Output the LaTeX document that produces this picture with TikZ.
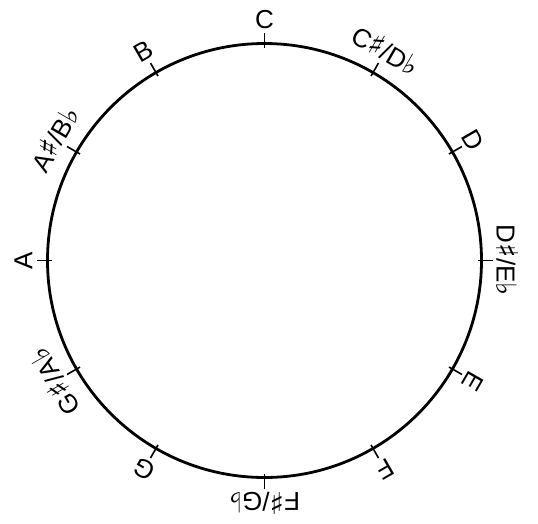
\documentclass[tikz,border=0pt]{standalone}
\usepackage{fontspec}
\usetikzlibrary{calc}
\setmainfont{Liberation Sans}
\newfontfamily\symfont{DejaVu Sans}
\newcommand{\shp}{{\symfont\fontsize{30}{30}\selectfont ♯}}
\newcommand{\flt}{{\symfont\fontsize{28}{28}\selectfont ♭}}
\begin{document}
\begin{tikzpicture}[x=1pt,y=1pt,
  ring/.style={line width=2.8pt},
  tickmark/.style={line width=1.6pt},
  notelabel/.style={anchor=south,inner sep=0pt,text depth=0pt,font=\fontsize{26}{26}\selectfont}]
\useasboundingbox (0,0) rectangle (538,-523);
\coordinate (O) at (264.5,-260.5);
\draw[ring] (O) circle (217);
\foreach \k/\name/\txt in {0/c/{C},1/cs/{C\shp/D\flt},2/d/{D},3/ds/{D\shp/E\flt},4/e/{E},5/f/{F},6/fs/{F\shp/G\flt},7/g/{G},8/gs/{G\shp/A\flt},9/a/{A},10/as/{A\shp/B\flt},11/b/{B}}{
  \pgfmathsetmacro{\ang}{90-30*\k}
  \coordinate (t1\name) at ($(O)+(\ang:213)$);
  \coordinate (t2\name) at ($(O)+(\ang:228)$);
  \draw[tickmark] (t1\name) -- (t2\name);
  \node[notelabel,rotate=-30*\k] (l\name) at ($(O)+(\ang:232)$) {\txt};
}
\end{tikzpicture}
\end{document}
